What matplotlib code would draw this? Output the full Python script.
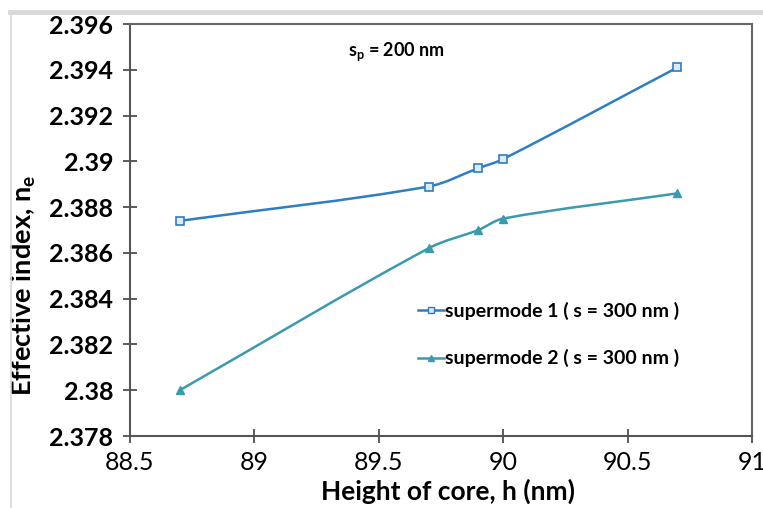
import numpy as np
import matplotlib
matplotlib.use("Agg")
import matplotlib.pyplot as plt
from matplotlib.path import Path
from matplotlib.patches import PathPatch
from matplotlib.lines import Line2D

h1 = [88.7, 89.7, 89.9, 90.0, 90.7]
ne1 = [2.3874, 2.3889, 2.3897, 2.3901, 2.3941]
h2 = [88.7, 89.7, 89.9, 90.0, 90.7]
ne2 = [2.3800, 2.3862, 2.3870, 2.3875, 2.3886]
label1 = "supermode 1 ( s = 300 nm )"
label2 = "supermode 2 ( s = 300 nm )"
xticks = [88.5, 89, 89.5, 90, 90.5, 91]
xticklabels = ["88.5", "89", "89.5", "90", "90.5", "91"]
yticks = [2.378, 2.38, 2.382, 2.384, 2.386, 2.388, 2.39, 2.392, 2.394, 2.396]
yticklabels = ["2.378", "2.38", "2.382", "2.384", "2.386", "2.388", "2.39", "2.392", "2.394", "2.396"]

c1 = "#2F7DC2"
c2 = "#3A9AAE"
FONT = ["Lato", "DejaVu Sans"]

fig = plt.figure(figsize=(7.63, 5.08), dpi=100)
ax = fig.add_axes([130/763, 1-436/508, (752-130)/763, (436-24)/508])
ax.set_xlim(88.5, 91)
ax.set_ylim(2.378, 2.396)

# pixel scale for smoothing (keeps tangents isotropic on screen)
SX = 622 / 2.5
SY = 412 / 0.018


def smooth_path(xs, ys, tension=1.0):
    pts = np.column_stack([np.asarray(xs) * SX, np.asarray(ys) * SY]).astype(float)
    n = len(pts)
    tang = []
    for i in range(n):
        a = pts[max(i - 1, 0)]
        b = pts[min(i + 1, n - 1)]
        d = b - a
        tang.append(d / np.linalg.norm(d))
    verts = [tuple(pts[0])]
    codes = [Path.MOVETO]
    for i in range(n - 1):
        p1, p2 = pts[i], pts[i + 1]
        L = np.linalg.norm(p2 - p1) / 3.0 * tension
        cA = p1 + tang[i] * L
        cB = p2 - tang[i + 1] * L
        verts += [tuple(cA), tuple(cB), tuple(p2)]
        codes += [Path.CURVE4] * 3
    verts = [(vx / SX, vy / SY) for vx, vy in verts]
    return Path(verts, codes)


for xs, ys, c in [(h1, ne1, c1), (h2, ne2, c2)]:
    ax.add_patch(PathPatch(smooth_path(xs, ys), facecolor="none", edgecolor=c, lw=1.8, zorder=2))

ax.plot(h1, ne1, ls="none", marker="s", ms=5.5, mfc="#DCEBF5", mec=c1, mew=1.2, zorder=3)
ax.plot(h2, ne2, ls="none", marker="^", ms=6, mfc=c2, mec=c2, zorder=3)

ax.set_xticks(xticks)
ax.set_xticklabels(xticklabels)
ax.set_yticks(yticks)
ax.set_yticklabels(yticklabels)
for lab in ax.get_xticklabels():
    lab.set_fontfamily(FONT)
    lab.set_fontsize(18)
for lab in ax.get_yticklabels():
    lab.set_fontfamily(FONT)
    lab.set_fontsize(18)
    lab.set_fontweight("bold")
ax.tick_params(axis="both", direction="inout", length=10, width=1.2, color="#404040")
ax.tick_params(axis="x", pad=6)
ax.tick_params(axis="y", pad=7)
for s in ax.spines.values():
    s.set_color("#555555")
    s.set_linewidth(1.5)
ax.spines["top"].set_color("#666666")
ax.spines["right"].set_color("#666666")

ax.set_xlabel("Height of core, h (nm)", fontsize=19, family=FONT, fontweight="bold")
ax.xaxis.set_label_coords((448-130)/622, (436-479)/412)
ax.set_ylabel("Effective index, n$_\\mathregular{e}$", fontsize=19.5, family=FONT,
              fontweight="bold")
ax.yaxis.set_label_coords((38-130)/622, (436-285)/412)

ax.text((396-130)/622, (436-52)/412, "s$_\\mathregular{p}$ = 200 nm", transform=ax.transAxes,
        fontsize=13, family=FONT, fontweight="bold", ha="center", va="center")

handles = [Line2D([], [], color=c1, lw=1.8, marker="s", ms=5, mfc="#DCEBF5", mec=c1),
           Line2D([], [], color=c2, lw=1.8, marker="^", ms=5, mfc=c2, mec=c2)]
leg = ax.legend(handles, [label1, label2], loc="upper left",
                bbox_to_anchor=((418-130)/622, (436-302)/412), frameon=False,
                handlelength=1.35, handletextpad=0.05, labelspacing=1.5,
                prop={"family": FONT, "size": 14, "weight": "bold"},
                borderaxespad=0, borderpad=0)

# light gray page border
fig.add_artist(Line2D([10/763, 1], [1-12/508, 1-12/508], transform=fig.transFigure,
                      color="#D9D9D9", lw=3.5))
fig.add_artist(Line2D([10.5/763, 10.5/763], [0, 1-12/508], transform=fig.transFigure,
                      color="#D9D9D9", lw=1.2))

fig.savefig("out.png", dpi=100)
